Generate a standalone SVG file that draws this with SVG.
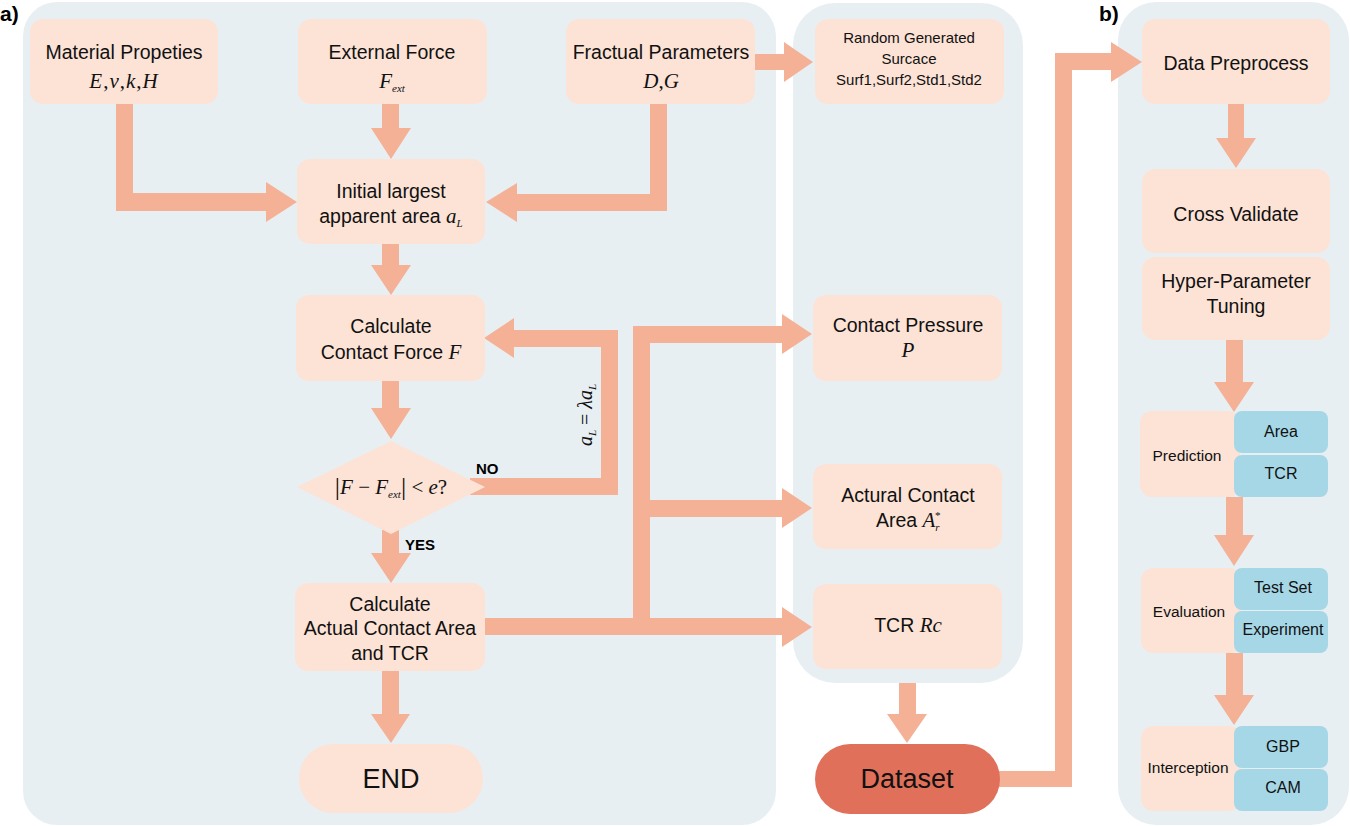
<svg xmlns="http://www.w3.org/2000/svg" width="1350" height="826" viewBox="0 0 1350 826">
<style>
.panel{fill:#E8EFF3}
.box{fill:#FCE3D6}
.blue{fill:#A6D7E7}
.arr{fill:#F5B195}
.t{font-family:"Liberation Sans",Arial,sans-serif;font-size:19.5px;fill:#111;text-anchor:middle}
.s{font-family:"Liberation Sans",Arial,sans-serif;font-size:15.5px;fill:#111;text-anchor:middle}
.m{font-family:"Liberation Serif","Times New Roman",serif;font-size:21px;fill:#111;text-anchor:middle;font-style:italic}
.up{font-style:normal}
.b{font-family:"Liberation Sans",Arial,sans-serif;font-weight:bold;fill:#000}
</style>
<rect class="panel" x="23" y="2" width="753" height="823" rx="34"/>
<rect class="panel" x="793" y="3" width="230" height="680" rx="42"/>
<rect class="panel" x="1118" y="2" width="231" height="823" rx="38"/>
<text class="b" x="0" y="21" font-size="21">a)</text>
<text class="b" x="1099" y="21" font-size="21">b)</text>
<g id="connectors">
<path class="arr" d="M116,104H133V193H266V182L297,202L266,222V211H116Z"/>
<path class="arr" d="M382,104H399V128H411L391,159L371,128H382Z"/>
<path class="arr" d="M650,104H667V211H517V222L486,202L517,183V194H650Z"/>
<path class="arr" d="M755,54H784V42L813,62L784,82V70H755Z"/>
<path class="arr" d="M382,244H399V265H411L391,295L371,265H382Z"/>
<path class="arr" d="M382,381H399V408H411L391,439L371,408H382Z"/>
<path class="arr" d="M470,495H618V330H514V318L484,338L514,358V347H601V478H470Z"/>
<path class="arr" d="M382,530H399V553H411L391,583L371,553H382Z"/>
<path class="arr" d="M485,618H782V607L812,627L782,647V635H485Z"/>
<rect class="arr" x="633" y="326" width="17" height="309"/>
<path class="arr" d="M633,326H782V314L812,334L782,354V343H633Z"/>
<path class="arr" d="M650,500H782V488L812,508L782,528V517H650Z"/>
<path class="arr" d="M382,671H399V714H410L391,743L371,714H382Z"/>
<path class="arr" d="M899,683H916V714H927L907,743L887,714H899Z"/>
<path class="arr" d="M995,787H1072V70H1111V82L1142,62L1111,42V53H1055V771H995Z"/>
<path class="arr" d="M1228,104H1244V138H1256L1236,168L1216,138H1228Z"/>
<path class="arr" d="M1226,340H1243V382H1254L1234,412L1214,382H1226Z"/>
<path class="arr" d="M1226,497H1243V535H1254L1234,566L1214,535H1226Z"/>
<path class="arr" d="M1226,653H1243V695H1254L1234,725L1214,695H1226Z"/>
<text class="b" x="476" y="474" font-size="15">NO</text>
<text class="b" x="405" y="550" font-size="15">YES</text>
<text class="m" transform="translate(592,415) rotate(-90)" style="font-size:20px">a<tspan font-size="11" dy="4">L</tspan><tspan class="up" dy="-4"> = </tspan>λa<tspan font-size="11" dy="4">L</tspan></text>
</g>
<g id="material">
<rect class="box" x="30" y="19" width="188" height="85" rx="13"/>
<text class="t" x="124" y="59">Material Propeties</text>
<text class="m" x="124" y="88" letter-spacing="1">E<tspan class="up">,</tspan>ν<tspan class="up">,</tspan>k<tspan class="up">,</tspan>H</text>
</g>
<g id="external">
<rect class="box" x="298" y="19" width="189" height="85" rx="13"/>
<text class="t" x="392" y="59">External Force</text>
<text class="m" x="392" y="88">F<tspan font-size="11" dy="4">ext</tspan></text>
</g>
<g id="fractual">
<rect class="box" x="566" y="19" width="189" height="85" rx="13"/>
<text class="t" x="661" y="59">Fractual Parameters</text>
<text class="m" x="661" y="88">D<tspan class="up">,</tspan>G</text>
</g>
<g id="surface">
<rect class="box" x="815" y="19" width="189" height="85" rx="13"/>
<text class="s" x="909" y="43" style="font-size:15px">Random Generated</text>
<text class="s" x="909" y="64" style="font-size:15px">Surcace</text>
<text class="s" x="909" y="85" style="font-size:15px">Surf1,Surf2,Std1,Std2</text>
</g>
<g id="initial">
<rect class="box" x="297" y="159" width="188" height="85" rx="13"/>
<text class="t" x="391" y="198">Initial largest</text>
<text class="t" x="391" y="223">apparent area <tspan class="m">a<tspan font-size="11" dy="4">L</tspan></tspan></text>
</g>
<g id="calcforce">
<rect class="box" x="296" y="295" width="189" height="86" rx="13"/>
<text class="t" x="391" y="333">Calculate</text>
<text class="t" x="391" y="359">Contact Force <tspan class="m">F</tspan></text>
</g>
<g id="decision">
<polygon class="box" points="297,487 391,441 485,487 391,534"/>
<text class="m" x="391" y="494"><tspan class="up" font-size="26" dy="1">|</tspan><tspan dy="-1">F</tspan><tspan class="up"> − </tspan>F<tspan font-size="11" dy="4">ext</tspan><tspan class="up" font-size="26" dy="-3">|</tspan><tspan class="up" dy="-1"> &lt; </tspan>e<tspan class="up">?</tspan></text>
</g>
<g id="calcarea">
<rect class="box" x="295" y="583" width="190" height="88" rx="13"/>
<text class="t" x="390" y="611">Calculate</text>
<text class="t" x="390" y="635">Actual Contact Area</text>
<text class="t" x="390" y="660">and TCR</text>
</g>
<g id="end">
<rect class="box" x="299" y="744" width="184" height="69" rx="34"/>
<text class="t" x="391" y="788" style="font-size:27px">END</text>
</g>
<g id="pressure">
<rect class="box" x="813" y="295" width="189" height="86" rx="13"/>
<text class="t" x="908" y="332">Contact Pressure</text>
<text class="m" x="908" y="357">P</text>
</g>
<g id="actualarea">
<rect class="box" x="813" y="464" width="189" height="85" rx="13"/>
<text class="t" x="908" y="502">Actural Contact</text>
<text class="t" x="908" y="527">Area <tspan class="m">A<tspan font-size="11" dy="4">r</tspan><tspan font-size="11" dx="-5" dy="-12">*</tspan></tspan></text>
</g>
<g id="tcr">
<rect class="box" x="813" y="584" width="189" height="85" rx="13"/>
<text class="t" x="908" y="632">TCR <tspan class="m">Rc</tspan></text>
</g>
<g id="dataset">
<rect x="815" y="744" width="185" height="70" rx="35" fill="#E0705A"/>
<text class="t" x="907" y="788" style="font-size:27px">Dataset</text>
</g>
<g id="preprocess">
<rect class="box" x="1142" y="19" width="188" height="85" rx="13"/>
<text class="t" x="1236" y="70">Data Preprocess</text>
</g>
<g id="crossvalidate">
<rect class="box" x="1142" y="169" width="188" height="84" rx="13"/>
<text class="t" x="1236" y="221">Cross Validate</text>
</g>
<g id="hyper">
<rect class="box" x="1142" y="257" width="188" height="83" rx="13"/>
<text class="t" x="1236" y="288">Hyper-Parameter</text>
<text class="t" x="1236" y="313">Tuning</text>
</g>
<g id="prediction">
<rect class="box" x="1140" y="411" width="100" height="86" rx="12"/>
<rect class="blue" x="1234" y="411" width="94" height="42" rx="8"/>
<rect class="blue" x="1234" y="455" width="94" height="42" rx="8"/>
<text class="s" x="1187" y="461">Prediction</text>
<text class="s" x="1281" y="437" style="font-size:16px">Area</text>
<text class="s" x="1281" y="479" style="font-size:16px">TCR</text>
</g>
<g id="evaluation">
<rect class="box" x="1141" y="568" width="100" height="85" rx="12"/>
<rect class="blue" x="1234" y="568" width="94" height="42" rx="8"/>
<rect class="blue" x="1234" y="611" width="94" height="42" rx="8"/>
<text class="s" x="1189" y="617">Evaluation</text>
<text class="s" x="1283" y="593" style="font-size:16px">Test Set</text>
<text class="s" x="1283" y="635" style="font-size:16px">Experiment</text>
</g>
<g id="interception">
<rect class="box" x="1141" y="726" width="100" height="85" rx="12"/>
<rect class="blue" x="1234" y="726" width="94" height="42" rx="8"/>
<rect class="blue" x="1234" y="769" width="94" height="42" rx="8"/>
<text class="s" x="1188" y="773">Interception</text>
<text class="s" x="1283" y="752" style="font-size:16px">GBP</text>
<text class="s" x="1283" y="793" style="font-size:16px">CAM</text>
</g>
</svg>
